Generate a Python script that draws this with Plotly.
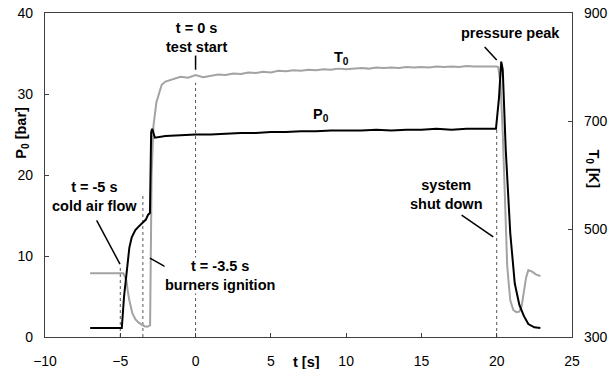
import plotly.graph_objects as go

# Stagnation pressure P0 [bar] vs time [s]
t_p = [-7.0, -4.9, -4.75, -4.55, -4.4, -4.24, -4.0, -3.8, -3.55, -3.3, -3.15, -3.03,
       -2.95, -2.88, -2.7, -2.4, -2.0, -1.0, 0.0, 1.0, 2.0, 3.0, 4.0, 5.0, 6.0, 7.0,
       8.0, 9.0, 10.0, 11.0, 12.0, 13.0, 14.0, 15.0, 16.0, 17.0, 18.0, 19.0, 19.95,
       20.15, 20.3, 20.4, 20.6, 20.9, 21.2, 21.5, 21.8, 22.1, 22.5, 22.9]
p0 = [1.1, 1.1, 5.0, 8.3, 11.0, 12.3, 13.2, 13.6, 14.0, 14.5, 15.1, 15.3,
      25.3, 25.7, 24.6, 24.7, 24.8, 24.9, 25.0, 25.0, 25.1, 25.2, 25.2, 25.3, 25.3, 25.4,
      25.4, 25.5, 25.5, 25.5, 25.6, 25.5, 25.6, 25.6, 25.7, 25.6, 25.7, 25.7, 25.7,
      29.5, 34.0, 33.0, 23.1, 12.8, 6.6, 4.0, 2.6, 1.6, 1.2, 1.1]

# Stagnation temperature T0 [K] vs time [s]
t_t = [-7.0, -4.8, -4.7, -4.6, -4.5, -4.4, -4.2, -4.0, -3.8, -3.6, -3.4, -3.2, -3.02,
       -2.92, -2.8, -2.6, -2.45, -2.25, -2.0, -1.5, -1.0, -0.5, 0.0, 0.5, 1.0, 1.5,
       2.0, 2.5, 3.0, 3.5, 4.0, 4.5, 5.0, 5.5, 6.0, 6.5, 7.0, 7.5, 8.0, 8.5, 9.0, 9.5,
       10.0, 10.5, 11.0, 11.5, 12.0, 12.5, 13.0, 13.5, 14.0, 14.5, 15.0, 15.5, 16.0,
       16.5, 17.0, 17.5, 18.0, 18.5, 19.0, 19.5, 20.0, 20.1, 20.25, 20.4, 20.55, 20.7,
       20.9, 21.1, 21.3, 21.5, 21.65, 21.8, 21.95, 22.1, 22.35, 22.6, 22.9]
t0 = [418, 418, 412, 405, 385, 368, 344, 333, 327, 323, 320, 319, 322,
      600, 690, 735, 750, 767, 773, 778, 782, 780, 785, 781, 784, 786,
      785, 788, 787, 790, 789, 791, 790, 793, 792, 794, 793, 795, 794, 796, 795, 797,
      796, 797, 798, 797, 799, 798, 799, 798, 800, 799, 800, 799, 801,
      800, 801, 800, 802, 801, 801, 802, 801, 800, 770, 678, 554, 430,
      368, 350, 346, 347, 356, 385, 410, 424, 421, 416, 413]

# Event times marked with dashed lines, and the pressure level each line reaches
event_t = [-5.0, -3.5, 0.0, 20.0]
event_top = [8.9, 17.5, 31.4, 25.6]

TXT = "Arial, Liberation Sans, sans-serif"
FRAME = "#404040"
LABEL_SIZE = 14.5

fig = go.Figure()
fig.add_trace(go.Scatter(x=t_t, y=t0, yaxis="y", mode="lines",
                         line=dict(color="#a3a3a3", width=2), showlegend=False))
fig.add_trace(go.Scatter(x=t_p, y=p0, yaxis="y2", mode="lines",
                         line=dict(color="#000000", width=2), showlegend=False))

shapes = []
for te, top in zip(event_t, event_top):
    shapes.append(dict(type="line", xref="x", yref="y2", x0=te, x1=te, y0=0, y1=top,
                       line=dict(color="#555555", width=1, dash="3px,3px"), layer="below"))

# leader lines from labels to the curves
leaders = [(-6.57, 14.4, -5.02, 9.0),
           (-3.03, 9.75, -1.37, 8.0),
           (0.0, 34.8, 0.0, 33.0),
           (19.2, 35.8, 20.0, 34.2),
           (17.67, 15.06, 19.77, 12.35)]
for x0, y0, x1, y1 in leaders:
    shapes.append(dict(type="line", xref="x", yref="y2", x0=x0, y0=y0, x1=x1, y1=y1,
                       line=dict(color="#000000", width=1.5)))

labels = [(-6.68, 17.3, "t = -5 s<br>cold air flow"),
          (1.62, 7.65, "t = -3.5 s<br>burners ignition"),
          (0.07, 37.0, "t = 0 s<br>test start"),
          (9.7, 34.4, "T<sub>0</sub>"),
          (8.3, 27.4, "P<sub>0</sub>"),
          (20.9, 37.5, "pressure peak"),
          (16.67, 17.6, "system<br>shut down")]
annotations = []
for x, y, s in labels:
    annotations.append(dict(x=x, y=y, xref="x", yref="y2", text="<b>" + s + "</b>",
                            showarrow=False, bgcolor="white", borderpad=0,
                            xanchor="center", yanchor="middle",
                            font=dict(family=TXT, size=LABEL_SIZE, color="black")))

annotations += [
    dict(x=-0.044, y=0.63, xref="paper", yref="paper", text="<b>P<sub>0</sub> [bar]</b>",
         textangle=-90, showarrow=False, xanchor="center", yanchor="middle",
         font=dict(family=TXT, size=LABEL_SIZE, color="black")),
    dict(x=1.04, y=0.52, xref="paper", yref="paper", text="<b>T<sub>0</sub> [K]</b>",
         textangle=90, showarrow=False, xanchor="center", yanchor="middle",
         font=dict(family=TXT, size=LABEL_SIZE, color="black")),
    dict(x=0.497, y=-0.076, xref="paper", yref="paper", text="<b>t [s]</b>",
         showarrow=False, xanchor="center", yanchor="middle",
         font=dict(family=TXT, size=LABEL_SIZE, color="black")),
]

axis_common = dict(showgrid=False, zeroline=False, showline=True, linecolor=FRAME,
                   linewidth=1.3, ticks="inside", ticklen=4, tickcolor=FRAME,
                   automargin=False,
                   tickfont=dict(family=TXT, size=14, color="black"))

fig.update_layout(
    width=614, height=369,
    margin=dict(l=45, r=42, t=13, b=32),
    paper_bgcolor="white", plot_bgcolor="white",
    xaxis=dict(range=[-10, 25], tickmode="linear", tick0=-10, dtick=5, mirror=True,
               ticklabelstandoff=11, **axis_common),
    yaxis=dict(range=[300, 900], tickmode="linear", tick0=300, dtick=200, side="right",
               ticklabelstandoff=8, **axis_common),
    yaxis2=dict(range=[0, 40], tickmode="linear", tick0=0, dtick=10, side="left",
                overlaying="y", ticklabelstandoff=8, **axis_common),
    shapes=shapes,
    annotations=annotations,
)

fig.write_html("out.html")
